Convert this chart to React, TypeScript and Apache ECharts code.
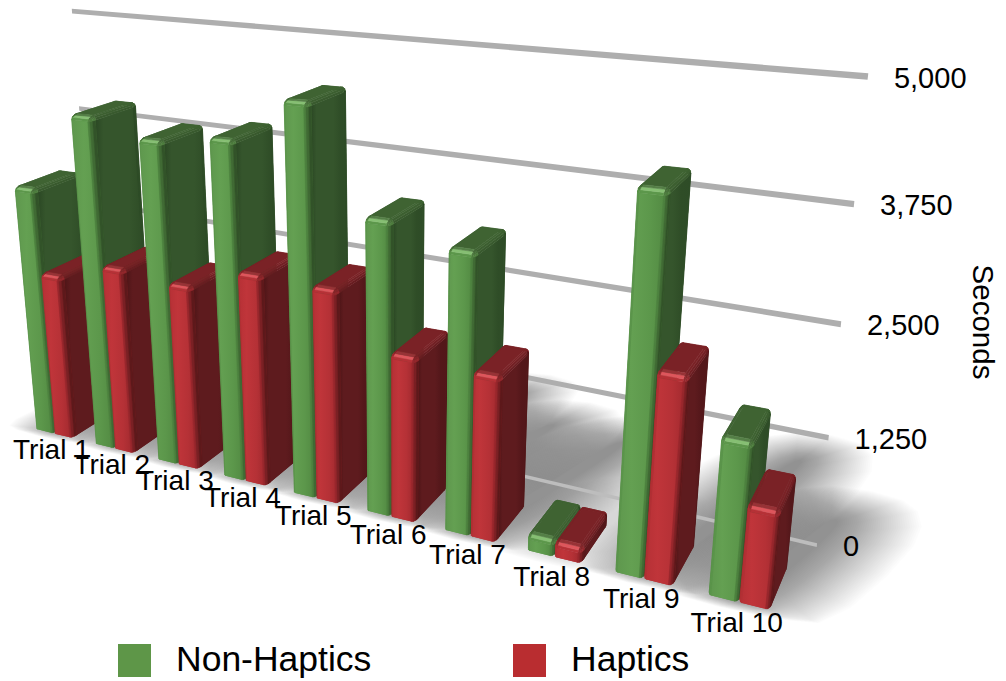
import React, { useEffect, useRef } from "react";
import * as echarts from "echarts";

const categories = ["Trial 1", "Trial 2", "Trial 3", "Trial 4", "Trial 5", "Trial 6", "Trial 7", "Trial 8", "Trial 9", "Trial 10"];
const nonHaptics = [3170, 4127, 3939, 4040, 4533, 3378, 3173, 180, 4032, 1692];
const haptics = [2116, 2342, 2274, 2545, 2525, 1922, 1882, 165, 2243, 1046];
const tickValues = [0, 1250, 2500, 3750, 5000];
const tickLabels = ["0", "1,250", "2,500", "3,750", "5,000"];
const seriesNames = ["Non-Haptics", "Haptics"];
const seriesColors = ["#5e9648", "#b92d30"];

const FONT = '"Liberation Sans", Arial, sans-serif';

// Three-point perspective: one vanishing point per world axis plus the image of the origin.
const VX_FLOOR = [-2276, -141];
const VX_WALL = [-2276, -182];
const VY = [397, 4400];
const VZ = [1113, -220];
const ORIGIN = [36, 429];
const KX = -0.02505;
const KY = -0.0906;

const projectWith = (vx: number[], X: number, Y: number, Z: number): number[] => {
  const a = KX * X;
  const b = KY * Y;
  const w = 1 + a + b + Z;
  return [
    (a * vx[0] + b * VY[0] + Z * VZ[0] + ORIGIN[0]) / w,
    (a * vx[1] + b * VY[1] + Z * VZ[1] + ORIGIN[1]) / w,
  ];
};
const project = (X: number, Y: number, Z: number) => projectWith(VX_FLOOR, X, Y, Z);
const projectWall = (X: number, Y: number, Z: number) => projectWith(VX_WALL, X, Y, Z);

const BAR_W = 0.315;
const BAR_OFFSET = -0.015;
const BAR_D = 0.043;
const WALL_Z = 0.0809;
const WALL_X0 = -0.32;
const WALL_X1 = 9.77;
const RX = 0.04;
const RZ = 0.0045;
const RY = 0.011;

type Palette = { left: string; mid: string; mid2: string; right: string; side0: string; side1: string; side2: string; top: string; hi: string };
const GREEN: Palette = { left: "#59904a", mid: "#64a052", mid2: "#5c974b", right: "#548c44", side0: "#2b4824", side1: "#35552c", side2: "#2e4c27", top: "#3f6332", hi: "#86bf73" };
const RED: Palette = { left: "#ad2d32", mid: "#c0353a", mid2: "#b53136", right: "#a52b30", side0: "#4e1517", side1: "#5e1b1e", side2: "#521719", top: "#7a2226", hi: "#dd565c" };

const hex = (c: string) => [1, 3, 5].map((i) => parseInt(c.slice(i, i + 2), 16));
const mix = (a: string, b: string, t: number) => {
  const p = hex(a);
  const q = hex(b);
  return "#" + p.map((v, i) => Math.round(v + (q[i] - v) * t).toString(16).padStart(2, "0")).join("");
};

const hGrad = (stops: [number, string][]) =>
  new echarts.graphic.LinearGradient(0, 0, 1, 0, stops.map(([offset, color]) => ({ offset, color })));

const worldOf = (params: any, api: any, idx: number, value: number) => {
  const cs = params.coordSys;
  const p = api.coord([idx, value]);
  return {
    X: (p[0] - cs.x) / (cs.width / (categories.length - 1)),
    Y: (cs.y + cs.height - p[1]) / cs.height,
  };
};

// Walk round a bar's rounded footprint; r scales the corner radii (1 at the walls, 0 on the flat top).
const footprint = (x0: number, x1: number, r: number) => {
  const pts: { X: number; Z: number }[] = [];
  const corner = (cx: number, cz: number, from: number) => {
    for (let k = 0; k <= 3; k++) {
      const t = from + (k / 3) * (Math.PI / 2);
      pts.push({ X: cx + RX * r * Math.cos(t), Z: cz + RZ * r * Math.sin(t) });
    }
  };
  corner(x0 + RX, RZ, Math.PI); // 0..3 front-left
  corner(x1 - RX, RZ, 1.5 * Math.PI); // 4..7 front-right
  corner(x1 - RX, BAR_D - RZ, 0); // 8..11 back-right
  corner(x0 + RX, BAR_D - RZ, 0.5 * Math.PI); // 12..15 back-left
  return pts;
};

const poly = (points: number[][], fill: any, z2: number, stroke?: string) => ({
  type: "polygon",
  z2,
  silent: true,
  shape: { points },
  style: { fill, stroke: stroke || "none", lineWidth: stroke ? 0.5 : 0 },
});

const buildBar = (params: any, api: any, slot: number, c: Palette) => {
  const idx = api.value(0);
  const { X, Y: H } = worldOf(params, api, idx, api.value(1));
  const x0 = X + BAR_OFFSET + slot * BAR_W;
  const x1 = x0 + BAR_W;
  const z2 = 100 + idx * 200 + slot * 100;
  const children: any[] = [];
  const base = footprint(x0, x1, 1);
  const n = base.length;
  const wallTop = H - RY;

  const wallColor = (seg: number): string => {
    if (seg < 3) return mix(c.left, c.mid2, seg / 3);
    if (seg === 3) return c.mid2;
    if (seg < 7) return mix(c.right, c.side0, (seg - 3.5) / 3);
    if (seg === 7) return c.side1;
    return c.side2;
  };

  // Rim bands climbing from the wall tops onto the flat top.
  const LEVELS = 3;
  const rimColor = (seg: number, level: number) => {
    if (seg <= 2) return [mix(c.mid2, c.top, 0.1), mix(c.mid2, c.top, 0.5), mix(c.mid2, c.top, 0.85)][level];
    if (seg === 3) return [c.mid2, c.hi, mix(c.hi, c.top, 0.7)][level];
    if (seg <= 6) return [mix(c.right, c.top, 0.4), mix(c.right, c.top, 0.7), c.top][level];
    if (seg === 7) return [mix(c.side1, c.top, 0.35), mix(c.side1, c.top, 0.7), c.top][level];
    return c.top;
  };
  const bands = (segs: number[], z: number) => {
    for (let j = 0; j < LEVELS; j++) {
      const p0 = (j / LEVELS) * (Math.PI / 2);
      const p1 = ((j + 1) / LEVELS) * (Math.PI / 2);
      const a = footprint(x0, x1, Math.cos(p0));
      const b = footprint(x0, x1, Math.cos(p1));
      const ya = wallTop + RY * Math.sin(p0);
      const yb = wallTop + RY * Math.sin(p1);
      for (const seg of segs) {
        const s2 = (seg + 1) % n;
        const col = rimColor(seg, j);
        children.push(poly([project(a[seg].X, ya, a[seg].Z), project(a[s2].X, ya, a[s2].Z), project(b[s2].X, yb, b[s2].Z), project(b[seg].X, yb, b[seg].Z)], col, z, col));
      }
    }
  };

  // Backing shapes keep the seams between strips from showing the page through.
  const wallOutline = (from: number, to: number) => {
    const pts: number[][] = [];
    for (let s = from; s <= to; s++) pts.push(project(base[s].X, 0, base[s].Z));
    for (let s = to; s >= from; s--) pts.push(project(base[s].X, wallTop, base[s].Z));
    return pts;
  };
  bands([11, 12, 13, 14, 15, 8, 9, 10], z2);
  children.push(poly(footprint(x0, x1, 0).map((p) => project(p.X, H, p.Z)), c.top, z2 + 1, c.top));
  children.push(poly(wallOutline(6, 11), c.side1, z2 + 2));
  children.push(poly(wallOutline(0, 7), c.mid2, z2 + 2));

  const sideGrad = hGrad([[0, c.side0], [0.14, c.side1], [0.6, c.side1], [0.8, mix(c.side1, c.side0, 0.6)], [1, c.side2]]);
  const frontGrad = hGrad([[0, mix(c.left, c.mid, 0.5)], [0.3, c.mid], [0.72, c.mid2], [1, c.right]]);
  for (const seg of [10, 9, 8, 7, 0, 1, 2, 3, 4, 5, 6]) {
    const s2 = seg + 1;
    const pts = [project(base[seg].X, 0, base[seg].Z), project(base[s2].X, 0, base[s2].Z), project(base[s2].X, wallTop, base[s2].Z), project(base[seg].X, wallTop, base[seg].Z)];
    if (seg === 3) children.push(poly(pts, frontGrad, z2 + 3));
    else if (seg === 7) children.push(poly(pts, sideGrad, z2 + 3));
    else {
      const solid = wallColor(seg);
      children.push(poly(pts, solid, z2 + 3, solid));
    }
  }
  bands([7, 6, 5, 4, 3, 2, 1, 0], z2 + 4);
  return { type: "group", children };
};

const renderNonHaptics = (params: any, api: any) => buildBar(params, api, 0, GREEN);
const renderHaptics = (params: any, api: any) => buildBar(params, api, 1, RED);

// Soft floor shadow: concentric rounded blobs on the floor plane, built up into a smooth falloff.
const renderShadow = (params: any, api: any) => {
  const idx = api.value(0);
  const { X, Y } = worldOf(params, api, idx, api.value(1));
  const length = 0.06 + 0.14 * Y;
  const drift = 6;
  const children: any[] = [];
  const LAYERS = 40;
  const POINTS = 20;
  const alpha = Y < 0.1 ? 0.003 : 0.0135;
  const cz = length / 2;
  const cx = X + BAR_W + drift * cz;
  for (let k = 0; k < LAYERS; k++) {
    const f = 1 - k / (LAYERS - 1);
    const halfLen = cz * 0.85 + 0.04 * f;
    const halfWid = 0.1 + 0.85 * f;
    const pts: number[][] = [];
    for (let p = 0; p < POINTS; p++) {
      const t = (p / POINTS) * 2 * Math.PI;
      const sa = Math.sin(t);
      const ca = Math.cos(t);
      const along = Math.sign(sa) * Math.pow(Math.abs(sa), 0.75) * halfLen;
      const across = Math.sign(ca) * Math.pow(Math.abs(ca), 0.75) * halfWid;
      let z = cz + along;
      if (z < 0) z *= 0.25;
      pts.push(project(cx + drift * along + across, 0, z));
    }
    children.push(poly(pts, "rgba(0,0,0," + alpha + ")", 1));
  }
  return { type: "group", children };
};

const renderGridline = (params: any, api: any) => {
  const value = api.value(1);
  const { Y } = worldOf(params, api, 0, value);
  const half = value === 0 ? 0.0045 : 0.0062;
  const end = projectWall(WALL_X1, Y, WALL_Z);
  return {
    type: "group",
    children: [
      poly(
        [projectWall(WALL_X0, Y - half, WALL_Z), projectWall(WALL_X1, Y - half, WALL_Z), projectWall(WALL_X1, Y + half, WALL_Z), projectWall(WALL_X0, Y + half, WALL_Z)],
        value === 0 ? "#bdbdbd" : "#aeaeae",
        50
      ),
      {
        type: "text",
        z2: 5000,
        silent: true,
        x: end[0] + 26,
        y: end[1] + 1,
        style: { text: tickLabels[tickValues.indexOf(value)], fill: "#000", font: "29px " + FONT, textAlign: "left", textVerticalAlign: "middle" },
      },
    ],
  };
};

const renderCategoryLabel = (params: any, api: any) => {
  const idx = api.value(0);
  const { X } = worldOf(params, api, idx, 0);
  const anchor = project(X + BAR_W, 0, 0);
  return {
    type: "text",
    z2: 5000,
    silent: true,
    x: anchor[0] - 3,
    y: anchor[1] + 16 + idx * 0.45,
    style: { text: categories[idx], fill: "#000", font: "28px " + FONT, textAlign: "center", textVerticalAlign: "middle" },
  };
};

// Key below the chart: swatch and name for each series.
const keySwatchX = [118, 513];
const keyTextX = [176, 571];
const keyItems = seriesNames.flatMap((name, i) => [
  { type: "rect", left: keySwatchX[i], top: 644, shape: { width: 33, height: 33 }, style: { fill: seriesColors[i] } },
  {
    type: "text",
    x: keyTextX[i],
    y: 659,
    style: { text: name, fill: "#000", font: "35.5px " + FONT, textAlign: "left", textVerticalAlign: "middle" },
  },
]);

export default function App() {
  const ref = useRef<HTMLDivElement>(null);
  useEffect(() => {
    const chart = echarts.init(ref.current as HTMLDivElement, undefined, { renderer: "svg" });
    const pairs = (values: number[]) => values.map((v, i) => [i, v]);
    chart.setOption({
      animation: false,
      backgroundColor: "#ffffff",
      grid: { left: 60, width: 900, top: 72, height: 500 },
      xAxis: { type: "category", data: categories, boundaryGap: false, show: false },
      yAxis: {
        type: "value",
        position: "right",
        min: 0,
        max: 5000,
        interval: 1250,
        name: "Seconds",
        nameLocation: "middle",
        nameRotate: -90,
        nameGap: 36,
        nameTextStyle: { fontFamily: FONT, fontSize: 29.5, color: "#000" },
        axisLine: { show: false },
        axisTick: { show: false },
        axisLabel: { show: false },
        splitLine: { show: false },
      },
      graphic: keyItems,
      series: [
        { type: "custom", name: "Shadow", renderItem: renderShadow, data: pairs(nonHaptics.map((v, i) => Math.max(v, haptics[i]))), silent: true },
        { type: "custom", name: "Gridlines", renderItem: renderGridline, data: tickValues.map((v) => [0, v]), silent: true },
        { type: "custom", name: seriesNames[0], renderItem: renderNonHaptics, data: pairs(nonHaptics), itemStyle: { color: seriesColors[0] } },
        { type: "custom", name: seriesNames[1], renderItem: renderHaptics, data: pairs(haptics), itemStyle: { color: seriesColors[1] } },
        { type: "custom", name: "Trials", renderItem: renderCategoryLabel, data: pairs(categories.map(() => 0)), silent: true },
      ],
    });
    return () => chart.dispose();
  }, []);
  return <div ref={ref} style={{ position: "absolute", left: 0, top: 0, width: 1006, height: 681 }} />;
}
